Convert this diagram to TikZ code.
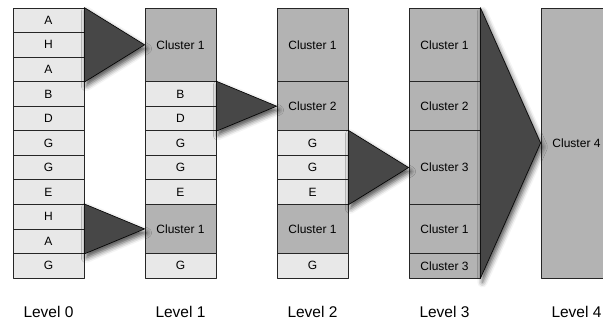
\documentclass[tikz,border=0pt]{standalone}
\usepackage{fontspec}
\setmainfont{Liberation Sans}
\usetikzlibrary{shadows.blur}
\definecolor{cellgray}{HTML}{E8E8E8}
\definecolor{clustgray}{HTML}{B3B3B3}
\definecolor{wedgegray}{HTML}{474747}
\begin{document}
\begin{tikzpicture}[x=1pt, y=-1pt, line join=round,
    cell/.style={draw=black!85, line width=0.8pt, fill=cellgray, minimum width=71pt, inner sep=0pt, font=\fontsize{12}{14}\selectfont},
    clust/.style={cell, fill=clustgray},
    wedge/.style={draw=black, line width=0.6pt, fill=wedgegray, blur shadow={shadow xshift=2pt, shadow yshift=-4pt, shadow blur radius=5pt, shadow opacity=70}},
    level/.style={font=\fontsize{15.5}{18}\selectfont}]
    \def\h{24.545}
    \clip (0,0) rectangle (603,322);
    % level 0
    \foreach \t [count=\r from 0] in {A,H,A,B,D,G,G,E,H,A,G}
        \node[cell, minimum height={\h*1pt}] (L0-\r) at (48.5, {8+(\r+0.5)*\h}) {\t};
    % level 1 to 4: column/start row/rows/style/text
    \foreach \c/\r/\n/\s/\t in {
        1/0/3/clust/Cluster 1, 1/3/1/cell/B, 1/4/1/cell/D, 1/5/1/cell/G, 1/6/1/cell/G,
        1/7/1/cell/E, 1/8/2/clust/Cluster 1, 1/10/1/cell/G,
        2/0/3/clust/Cluster 1, 2/3/2/clust/Cluster 2, 2/5/1/cell/G, 2/6/1/cell/G,
        2/7/1/cell/E, 2/8/2/clust/Cluster 1, 2/10/1/cell/G,
        3/0/3/clust/Cluster 1, 3/3/2/clust/Cluster 2, 3/5/3/clust/Cluster 3,
        3/8/2/clust/Cluster 1, 3/10/1/clust/Cluster 3,
        4/0/11/clust/Cluster 4}
        \node[\s, minimum height={\n*\h*1pt}] (L\c-\r) at ({48.5+132*\c}, {8+(\r+\n/2)*\h}) {\t};
    % merging wedges
    \foreach \a/\b/\p in {L0-0/L0-2/L1-0, L1-3/L1-4/L2-3, L0-8/L0-9/L1-8, L2-5/L2-7/L3-5, L3-0/L3-10/L4-0}
        \draw[wedge] (\a.north east) -- (\p.west) -- (\b.south east) -- cycle;
    \foreach \c in {0,...,4}
        \node[level] (lev\c) at ({48.5+132*\c}, 312) {Level \c};
\end{tikzpicture}
\end{document}
